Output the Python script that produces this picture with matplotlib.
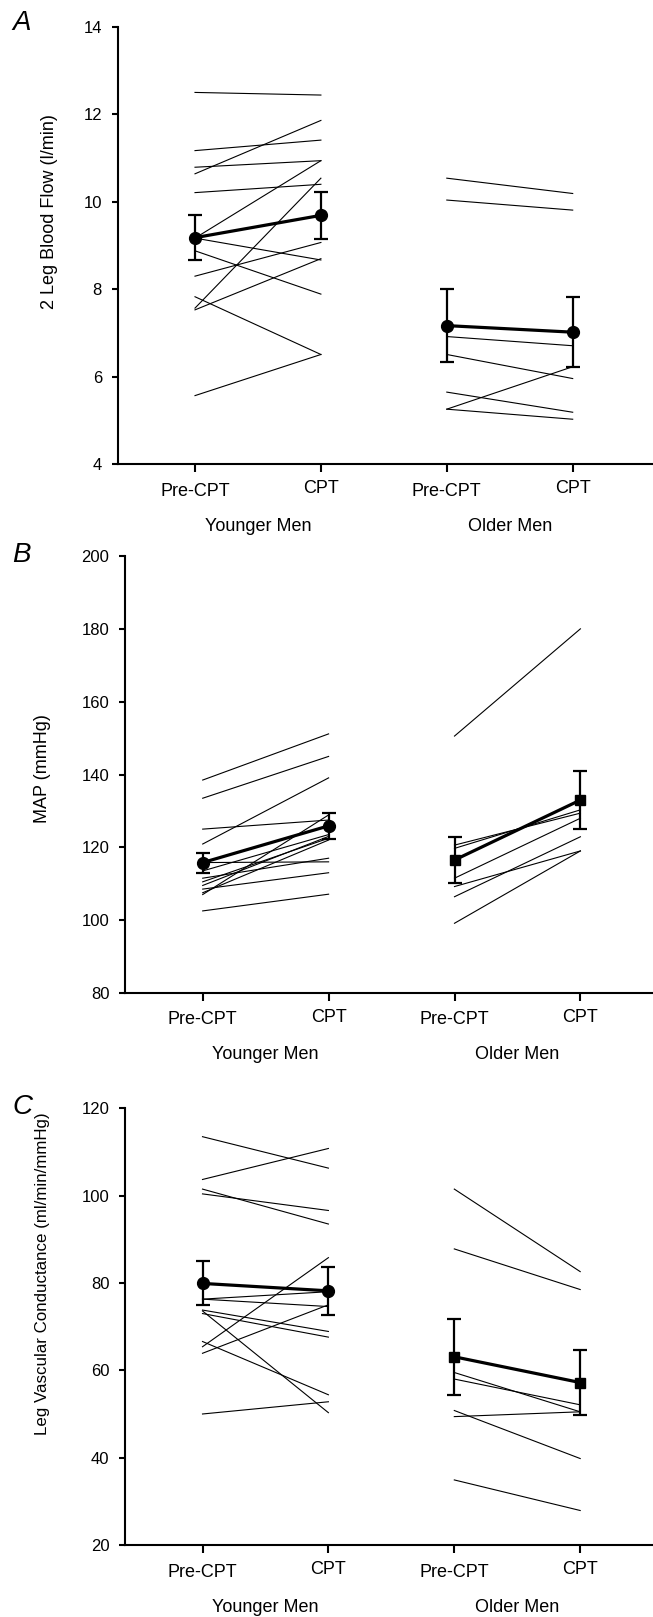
import matplotlib
matplotlib.use("Agg")
import matplotlib.pyplot as plt

plt.rcParams['font.family'] = ['Liberation Sans', 'DejaVu Sans']

# x categories
conditions = ["Pre-CPT", "CPT", "Pre-CPT", "CPT"]
groups = ["Younger Men", "Older Men"]
x_young = [1, 2]
x_old = [3, 4]

# Panel A - 2 leg blood flow (l/min)
flow_young_pre = [12.50, 11.17, 10.64, 10.79, 10.21, 9.17, 9.17, 8.88, 8.30, 7.57, 7.53, 7.83, 5.57]
flow_young_cpt = [12.44, 11.41, 11.86, 10.94, 10.40, 10.94, 8.67, 7.89, 9.07, 10.54, 8.70, 6.51, 6.51]
flow_old_pre = [10.54, 10.04, 6.92, 6.51, 5.65, 5.26, 5.26]
flow_old_cpt = [10.19, 9.81, 6.71, 5.96, 5.19, 6.23, 5.03]
flow_young_mean = [9.18, 9.69]
flow_young_se = [0.52, 0.54]
flow_old_mean = [7.17, 7.02]
flow_old_se = [0.84, 0.80]

# Panel B - MAP (mmHg)
map_young_pre = [138.5, 133.5, 120.9, 125.0, 115.8, 113.5, 111.5, 110.5, 109.5, 108.5, 107.5, 107.0, 102.5]
map_young_cpt = [151.2, 145.0, 139.1, 127.5, 116.0, 123.5, 117.0, 122.5, 123.0, 113.0, 122.0, 128.9, 107.1]
map_old_pre = [150.6, 120.6, 119.7, 111.5, 109.2, 106.4, 99.1]
map_old_cpt = [180.1, 129.4, 130.3, 128.0, 119.0, 122.9, 119.0]
map_young_mean = [115.8, 125.9]
map_young_se = [2.75, 3.5]
map_old_mean = [116.5, 133.0]
map_old_se = [6.35, 8.0]

# Panel C - leg vascular conductance (ml/min/mmHg)
lvc_young_pre = [113.5, 103.7, 101.5, 100.4, 76.3, 76.3, 65.4, 63.9, 73.8, 73.0, 73.6, 66.6, 50.0]
lvc_young_cpt = [106.3, 110.8, 93.5, 96.6, 78.0, 74.6, 85.8, 75.0, 68.9, 67.6, 50.3, 54.4, 52.8]
lvc_old_pre = [101.5, 87.8, 59.5, 58.0, 49.4, 50.8, 34.9]
lvc_old_cpt = [82.6, 78.5, 50.5, 52.1, 50.5, 39.8, 27.9]
lvc_young_mean = [79.9, 78.2]
lvc_young_se = [5.05, 5.55]
lvc_old_mean = [63.1, 57.2]
lvc_old_se = [8.75, 7.35]

W, H = 653, 1617
PX_PER_X = 125.9


def px_box(left, top, bottom, right=W):
    return [left / W, 1 - bottom / H, (right - left) / W, (bottom - top) / H]


def draw_panel(fig, p):
    ax = fig.add_axes(px_box(p["left"], p["top"], p["bottom"]))
    width_px = W - p["left"]
    x0 = 1 - (p["first_tick"] - p["left"]) / PX_PER_X
    ax.set_xlim(x0, x0 + width_px / PX_PER_X)
    ax.set_ylim(*p["ylim"])
    ax.set_yticks(p["yticks"])

    for pre, post in zip(p["young_pre"], p["young_cpt"]):
        ax.plot(x_young, [pre, post], color="black", lw=0.8)
    for pre, post in zip(p["old_pre"], p["old_cpt"]):
        ax.plot(x_old, [pre, post], color="black", lw=0.8)

    ax.errorbar(x_young, p["young_mean"], yerr=p["young_se"], fmt="-o", color="black",
                lw=2.3, ms=8.5, capsize=5, capthick=1.6, elinewidth=1.6, zorder=5)
    ms_old = 8.5 if p["old_marker"] == "o" else 7.5
    ax.errorbar(x_old, p["old_mean"], yerr=p["old_se"], fmt="-" + p["old_marker"], color="black",
                lw=2.3, ms=ms_old, capsize=5, capthick=1.6, elinewidth=1.6, zorder=5)

    for s in ["top", "right"]:
        ax.spines[s].set_visible(False)
    for s in ["left", "bottom"]:
        ax.spines[s].set_linewidth(1.5)
    ax.set_xticks(x_young + x_old)
    ax.set_xticklabels([])
    ax.tick_params(axis="x", length=5.8, width=1.5)
    ax.tick_params(axis="y", length=4.3, width=1.5, pad=7, labelsize=12)

    h = p["bottom"] - p["top"]
    trans = ax.get_xaxis_transform()
    for xi, lab in zip(x_young + x_old, conditions):
        off = 27 if lab == "Pre-CPT" else 24.5
        ax.text(xi, -off / h, lab, transform=trans, ha="center", va="center", fontsize=13)
    ax.text(sum(x_young) / 2, -62 / h, groups[0], transform=trans, ha="center", va="center", fontsize=13)
    ax.text(sum(x_old) / 2, -62 / h, groups[1], transform=trans, ha="center", va="center", fontsize=13)

    ax.set_ylabel(p["ylabel"], fontsize=p["ylabel_size"], va="center")
    ax.yaxis.set_label_coords((p["label_xy"][0] - p["left"]) / width_px,
                              (p["bottom"] - p["label_xy"][1]) / h)

    fig.text(12 / W, 1 - p["letter_top"] / H, p["letter"], fontsize=20, style="italic",
             ha="left", va="top")


def main():
    fig = plt.figure(figsize=(W / 100, H / 100), dpi=100)

    panels = [
        dict(letter="A", letter_top=10, ylabel="2 Leg Blood Flow (l/min)", ylabel_size=13,
             left=117.6, top=26.8, bottom=464.3, first_tick=195, ylim=(4, 14),
             yticks=[4, 6, 8, 10, 12, 14], label_xy=(49, 211.5),
             young_pre=flow_young_pre, young_cpt=flow_young_cpt,
             old_pre=flow_old_pre, old_cpt=flow_old_cpt,
             young_mean=flow_young_mean, young_se=flow_young_se,
             old_mean=flow_old_mean, old_se=flow_old_se, old_marker="o"),
        dict(letter="B", letter_top=542, ylabel="MAP (mmHg)", ylabel_size=13,
             left=125, top=556.5, bottom=992.7, first_tick=202.7, ylim=(80, 200),
             yticks=[80, 100, 120, 140, 160, 180, 200], label_xy=(42, 768.5),
             young_pre=map_young_pre, young_cpt=map_young_cpt,
             old_pre=map_old_pre, old_cpt=map_old_cpt,
             young_mean=map_young_mean, young_se=map_young_se,
             old_mean=map_old_mean, old_se=map_old_se, old_marker="s"),
        dict(letter="C", letter_top=1094, ylabel="Leg Vascular Conductance (ml/min/mmHg)",
             ylabel_size=12.2,
             left=125, top=1108.3, bottom=1545, first_tick=202.5, ylim=(20, 120),
             yticks=[20, 40, 60, 80, 100, 120], label_xy=(42, 1274),
             young_pre=lvc_young_pre, young_cpt=lvc_young_cpt,
             old_pre=lvc_old_pre, old_cpt=lvc_old_cpt,
             young_mean=lvc_young_mean, young_se=lvc_young_se,
             old_mean=lvc_old_mean, old_se=lvc_old_se, old_marker="s"),
    ]
    for p in panels:
        draw_panel(fig, p)

    fig.savefig("out.png", dpi=100)
    plt.close(fig)


if __name__ == "__main__":
    main()
